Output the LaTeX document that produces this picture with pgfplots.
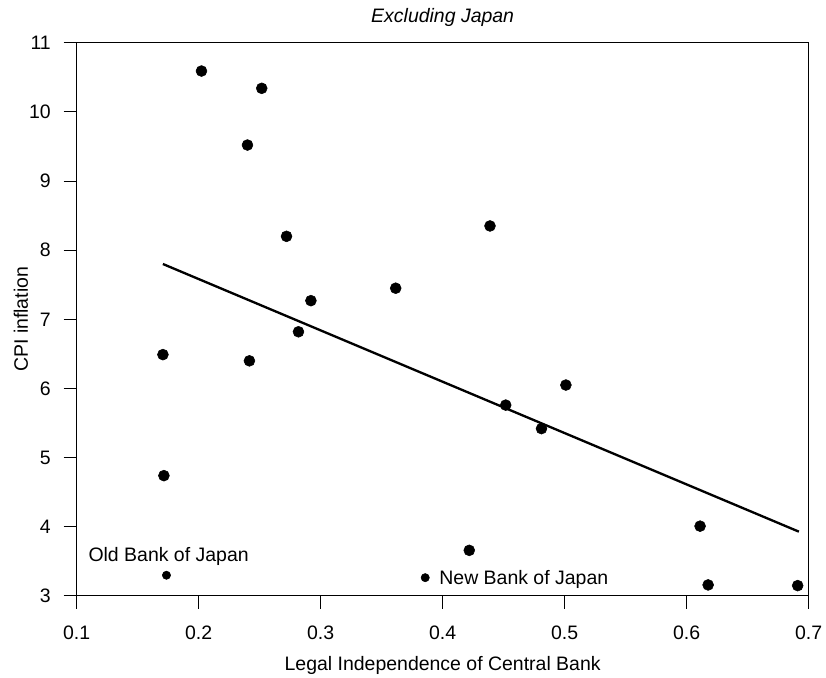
\documentclass[border=0pt]{standalone}
\usepackage{fontspec}
\setmainfont{Liberation Sans}
\usepackage{pgfplots}
\pgfplotsset{compat=1.18}
\begin{document}
\begin{tikzpicture}
\path[use as bounding box] (0,0) rectangle (619.5pt,508.5pt);
\begin{axis}[
  at={(57.5pt,61.5pt)}, anchor=south west,
  scale only axis, width=549pt, height=415pt,
  xmin=0.1, xmax=0.7, ymin=3, ymax=11,
  xtick={0.1,0.2,0.3,0.4,0.5,0.6,0.7},
  ytick={3,4,5,6,7,8,9,10,11},
  xticklabels={0.1,0.2,0.3,0.4,0.5,0.6,0.7},
  yticklabels={3,4,5,6,7,8,9,10,11},
  tick align=outside, major tick length=9.75pt,
  tick style={black, line width=0.75pt},
  axis line style={line width=0.75pt},
  xtick pos=bottom, ytick pos=left,
  font=\fontsize{14.6}{17}\selectfont,
  ticklabel style={font=\fontsize{14.6}{17}\selectfont},
  /pgf/number format/assume math mode=true,
  xticklabel style={anchor=base, inner sep=0pt, yshift=-23.25pt},
  yticklabel style={anchor=east, inner sep=0pt, xshift=-9.5pt},
  xlabel={Legal Independence of Central Bank},
  xlabel style={at={(axis description cs:0.5,0)}, anchor=base, yshift=-56.25pt, inner sep=0pt},
  ylabel={CPI inflation},
  ylabel style={at={(axis description cs:-0.0761,0.5)}, anchor=center, rotate=0, inner sep=0pt},
  clip=false,
]
\addplot[only marks, mark=*, mark size=4.1pt, black] coordinates {
(0.2023,10.59) (0.2517,10.34) (0.240,9.52) (0.272,8.20) (0.4388,8.35)
(0.292,7.27) (0.3615,7.45) (0.2818,6.82) (0.1707,6.49) (0.2416,6.40)
(0.501,6.05) (0.4517,5.76) (0.481,5.42) (0.1715,4.74) (0.4218,3.66)
(0.611,4.01) (0.6176,3.16) (0.691,3.15)
};
\addplot[only marks, mark=*, mark size=3.1pt, black] coordinates {
(0.1736,3.30) (0.3857,3.265)
};
\addplot[black, line width=1.75pt] coordinates {(0.1707,7.80) (0.692,3.93)};
\node[anchor=base west, inner sep=0pt] at (axis cs:0.1095,3.50) {Old Bank of Japan};
\node[anchor=base west, inner sep=0pt] at (axis cs:0.3971,3.16) {New Bank of Japan};
\node[anchor=base, inner sep=0pt, font=\fontsize{14.6}{17}\selectfont\itshape] at (rel axis cs:0.5,1) [yshift=15pt] {Excluding Japan};
\end{axis}
\end{tikzpicture}
\end{document}
